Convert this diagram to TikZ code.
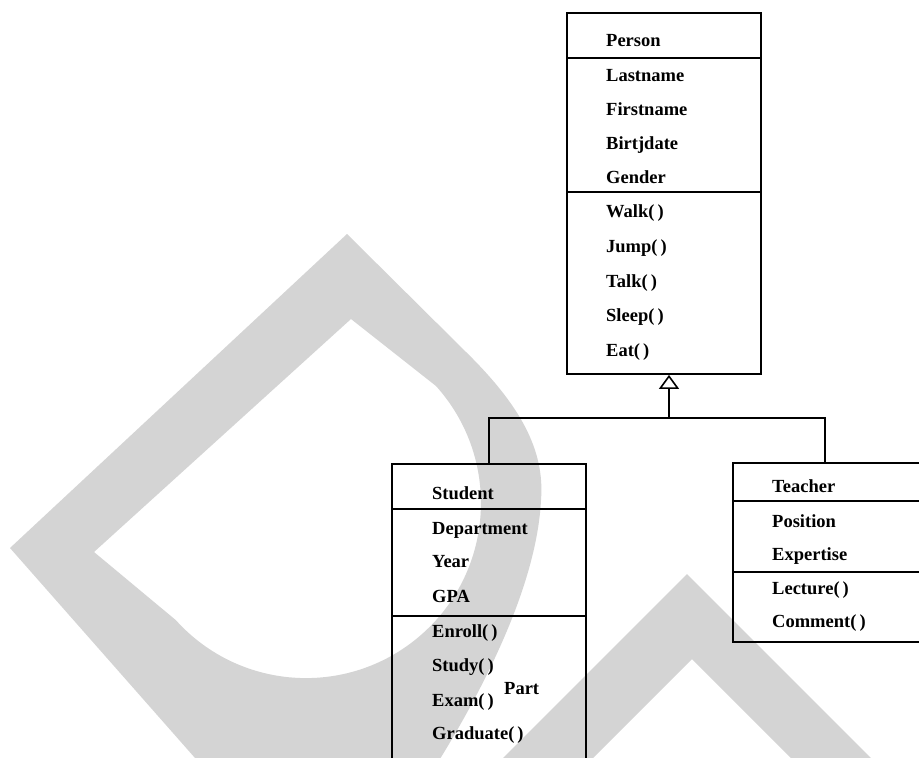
\documentclass[tikz,border=0pt]{standalone}
\usepackage{fontspec}
\setmainfont{Liberation Serif}
\usetikzlibrary{arrows.meta}
\definecolor{wmgrey}{RGB}{212,212,212}
\begin{document}
\begin{tikzpicture}[x=1pt,y=-1pt,
  umlbox/.style={draw, line width=1.8pt, inner sep=0pt, rectangle},
  sepline/.style={line width=1.3pt},
  label/.style={anchor=base west, inner sep=0pt, font=\fontsize{18.5}{20}\selectfont\bfseries},
  link/.style={line width=1.7pt},
  inherit/.style={link, -{Triangle[open, length=14pt, width=20pt, line width=1.6pt]}}]
\useasboundingbox (0,0) rectangle (919,758);
\fill[white] (0,0) rectangle (919,758);
\clip (0,0) rectangle (919,758);

% light grey letter shapes in the background
\fill[wmgrey, even odd rule]
  (10,548) -- (347,234) -- (466,352)
    .. controls (520,405) and (545,450) .. (541,500)
    .. controls (537,580) and (490,680) .. (430,775) -- (210,775) -- cycle
  (94,552) -- (351,319) -- (436,386) arc[start angle=-42, end angle=138, radius=175] -- cycle;
\fill[wmgrey] (486,775) -- (687,574) -- (888,775) -- (808,775) -- (692,659) -- (576,775) -- cycle;

% class boxes
\node[umlbox, minimum width=194, minimum height=361] (person) at (664,193.5) {};
\node[umlbox, minimum width=194, minimum height=336] (student) at (489,632) {};
\node[umlbox, minimum width=197, minimum height=179] (teacher) at (831.5,552.5) {};

% compartment separators
\draw[sepline] (567,58) -- (761,58);
\draw[sepline] (567,192) -- (761,192);
\draw[sepline] (392,509) -- (586,509);
\draw[sepline] (392,616) -- (586,616);
\draw[sepline] (733,501) -- (930,501);
\draw[sepline] (733,572) -- (930,572);

% Person
\node[label] (pname) at (606,46) {Person};
\node[label] (plast) at (606,81) {Lastname};
\node[label] (pfirst) at (606,115) {Firstname};
\node[label] (pbirth) at (606,149) {Birtjdate};
\node[label] (pgender) at (606,183) {Gender};
\node[label] (pwalk) at (606,217) {Walk(\,)};
\node[label] (pjump) at (606,252) {Jump(\,)};
\node[label] (ptalk) at (606,287) {Talk(\,)};
\node[label] (psleep) at (606,321) {Sleep(\,)};
\node[label] (peat) at (606,356) {Eat(\,)};

% Student
\node[label] (sname) at (432,499) {Student};
\node[label] (sdept) at (432,534) {Department};
\node[label] (syear) at (432,567) {Year};
\node[label] (sgpa) at (432,602) {GPA};
\node[label] (senroll) at (432,637) {Enroll(\,)};
\node[label] (sstudy) at (432,671) {Study(\,)};
\node[label] (sexam) at (432,706) {Exam(\,)};
\node[label] (spart) at (504,694) {Part};
\node[label] (sgrad) at (432,739) {Graduate(\,)};

% Teacher
\node[label] (tname) at (772,492) {Teacher};
\node[label] (tpos) at (772,527) {Position};
\node[label] (texp) at (772,560) {Expertise};
\node[label] (tlect) at (772,594) {Lecture(\,)};
\node[label] (tcomm) at (772,627) {Comment(\,)};

% generalisation
\coordinate (junction) at (669,418);
\coordinate (tdrop) at (825,463);
\draw[link] (student.north) |- (junction);
\draw[link] (tdrop) |- (junction);
\draw[inherit] (junction) -- (junction |- person.south);
\end{tikzpicture}
\end{document}
